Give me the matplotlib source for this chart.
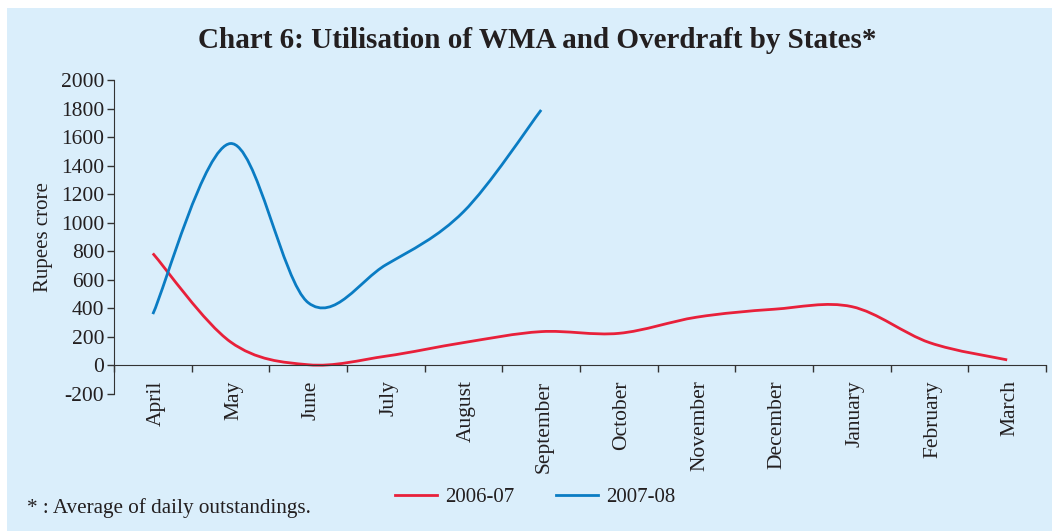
import matplotlib
matplotlib.use("Agg")
import matplotlib.pyplot as plt
from matplotlib.path import Path
from matplotlib.patches import PathPatch, Rectangle
from matplotlib.lines import Line2D
import numpy as np

# ---------------------------------------------------------------------------
# data (Rupees crore, average of daily outstandings)
# ---------------------------------------------------------------------------
months = ["April", "May", "June", "July", "August", "September", "October",
          "November", "December", "January", "February", "March"]
util_2006_07 = [785, 165, 5, 65, 160, 237, 225, 338, 394, 412, 160, 39]
util_2007_08 = [360, 1555, 440, 705, 1077, 1790]
series_names = ["2006-07", "2007-08"]
y_ticks = list(range(-200, 2001, 200))

RED = "#e8203a"
BLUE = "#0a7cc3"
BG = "#daeefb"
INK = "#231f20"

plt.rcParams["font.family"] = ["Liberation Serif", "DejaVu Serif"]


def smooth_path(xs, ys):
    """Excel-style smoothed line: cubic Bezier segments with Catmull-Rom
    control points, so the curve passes through every data point."""
    xs = np.asarray(xs, float)
    ys = np.asarray(ys, float)
    n = len(xs)
    verts = [(xs[0], ys[0])]
    codes = [Path.MOVETO]
    for i in range(n - 1):
        i0 = max(i - 1, 0)
        i3 = min(i + 2, n - 1)
        c1 = (xs[i] + (xs[i + 1] - xs[i0]) / 6, ys[i] + (ys[i + 1] - ys[i0]) / 6)
        c2 = (xs[i + 1] - (xs[i3] - xs[i]) / 6, ys[i + 1] - (ys[i3] - ys[i]) / 6)
        verts += [c1, c2, (xs[i + 1], ys[i + 1])]
        codes += [Path.CURVE4] * 3
    return Path(verts, codes)


fig = plt.figure(figsize=(10.52, 5.31), dpi=100)
fig.patch.set_facecolor("white")
fig.patches.append(Rectangle((7 / 1052, 0), 1, 1 - 8 / 531,
                             transform=fig.transFigure, facecolor=BG,
                             edgecolor="none", zorder=-10))

ax = fig.add_axes([114 / 1052, 1 - 394 / 531, 932 / 1052, 314 / 531])
ax.set_facecolor("none")

x = np.arange(len(months))
for vals, color in [(util_2006_07, RED), (util_2007_08, BLUE)]:
    p = smooth_path(x[:len(vals)], vals)
    ax.add_patch(PathPatch(p, facecolor="none", edgecolor=color, lw=2.0,
                           capstyle="butt", joinstyle="round"))

ax.set_xlim(-0.5, len(months) - 0.5)
ax.set_ylim(-200, 2000)
ax.set_yticks(y_ticks)
ax.set_yticklabels([str(v) for v in y_ticks])

# tick marks sit between the categories; month names hang below the zero line
ax.set_xticks(np.arange(-0.5, len(months), 1.0))
ax.set_xticklabels([])
for xi, name in zip(x, months):
    ax.annotate(name, xy=(xi, 0), xytext=(3, -15), textcoords="offset pixels",
                rotation=90, ha="center", va="top", fontsize=15.5, color=INK,
                annotation_clip=False)
ax.tick_params(axis="x", length=5, width=1, color="#333333", direction="out")
ax.tick_params(axis="y", length=5, width=1, color="#333333", direction="out",
               pad=2, labelsize=15.5, labelcolor=INK)

for s in ["top", "right"]:
    ax.spines[s].set_visible(False)
ax.spines["bottom"].set_position(("data", 0))
ax.spines["left"].set_color("#333333")
ax.spines["bottom"].set_color("#333333")

ax.set_ylabel("Rupees crore", fontsize=15, color=INK, labelpad=6)

fig.text(537 / 1052, 1 - 41 / 531, "Chart 6: Utilisation of WMA and Overdraft by States*",
         ha="center", va="center", fontsize=21, fontweight="bold", color=INK)
fig.text(27 / 1052, 1 - 508 / 531, "* : Average of daily outstandings.",
         ha="left", va="center", fontsize=15.2, color=INK)

handles = [Line2D([], [], color=RED, lw=2.0), Line2D([], [], color=BLUE, lw=2.0)]
fig.legend(handles, series_names, loc="center", ncol=2, frameon=False,
           bbox_to_anchor=(535 / 1052, 1 - 497 / 531), fontsize=15,
           handlelength=2.0, columnspacing=2.0, handletextpad=0.4,
           labelcolor=INK)

fig.savefig("out.png", dpi=100, facecolor=fig.get_facecolor())
